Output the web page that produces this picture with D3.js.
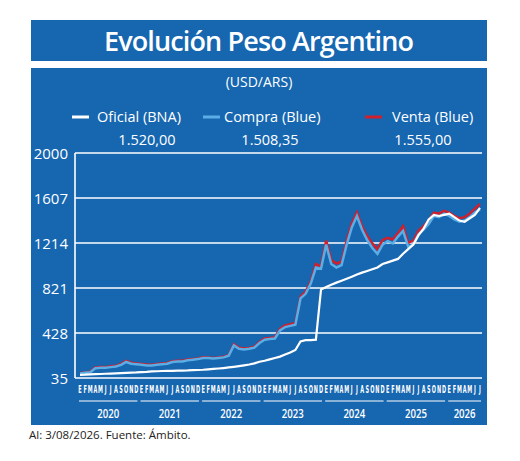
<!DOCTYPE html>
<html><head><meta charset="utf-8">
<script src="https://cdn.jsdelivr.net/npm/d3@7"></script>
<style>body{margin:0;background:#fff}svg{display:block}</style>
</head><body>
<script>
const months = ["E","F","M","A","M","J","J","A","S","O","N","D"];
const years = [2020,2021,2022,2023,2024,2025,2026];
const yTicks = [35,428,821,1214,1607,2000];
// monthly values Jan 2020 .. Jul 2026 (79 points)
const oficial = [63,64,66,68,70,72,74,76,78,80,82,84,
  87,89,92,94,96,97,98,99,100,101,103,105,
  107,110,114,118,122,127,132,138,145,153,163,177,
  186,198,210,222,240,258,280,355,365,365,370,808,
  830,850,868,885,902,920,938,955,970,985,1000,1030,
  1045,1060,1075,1120,1160,1200,1280,1340,1420,1460,1450,1460,
  1470,1440,1410,1400,1430,1460,1520];
const compra = [75,80,85,120,125,125,130,135,150,175,160,155,
  150,145,145,150,155,160,175,180,180,190,195,200,
  210,210,205,210,215,230,320,290,285,290,300,340,
  370,375,380,450,480,490,500,730,770,860,1000,990,
  1200,1030,1000,1020,1200,1350,1450,1330,1240,1170,1120,1200,
  1230,1210,1270,1320,1180,1200,1290,1330,1380,1450,1440,1470,
  1450,1420,1400,1410,1440,1480,1508];
const venta = [78,83,90,128,132,130,138,142,158,185,168,162,
  157,152,150,157,162,167,182,186,186,196,200,205,
  216,215,210,215,220,236,330,300,292,298,308,350,
  380,385,392,465,495,505,515,745,790,880,1030,1010,
  1235,1065,1035,1050,1235,1385,1480,1360,1275,1210,1160,1240,
  1260,1245,1300,1360,1215,1235,1320,1360,1410,1480,1470,1495,
  1480,1450,1430,1440,1470,1515,1555];

const W=520,H=461, blue="#1666b0";
const svg=d3.select("body").append("svg").attr("width",W).attr("height",H);
svg.append("rect").attr("x",31).attr("y",20).attr("width",456).attr("height",41).attr("fill",blue);
svg.append("rect").attr("x",31).attr("y",68).attr("width",456).attr("height",357).attr("fill",blue);
svg.append("text").attr("x",259).attr("y",51).attr("text-anchor","middle").attr("fill","#fff")
  .attr("font-family","Open Sans").attr("font-weight","600").attr("font-size",27).attr("textLength",310)
  .text("Evolución Peso Argentino");
svg.append("text").attr("x",259).attr("y",87).attr("text-anchor","middle").attr("fill","#fff")
  .attr("font-family","Open Sans").attr("font-size",14).text("(USD/ARS)");

const legend=[{n:"Oficial (BNA)",c:"#fff",v:"1.520,00",lx:72,tx:97,vx:147},
  {n:"Compra (Blue)",c:"#5aaee6",v:"1.508,35",lx:203,tx:224,vx:270},
  {n:"Venta (Blue)",c:"#d0202e",v:"1.555,00",lx:365,tx:392,vx:423}];
legend.forEach(l=>{
  svg.append("line").attr("x1",l.lx).attr("x2",l.lx+17).attr("y1",117).attr("y2",117).attr("stroke",l.c).attr("stroke-width",3);
  svg.append("text").attr("x",l.tx).attr("y",122).attr("fill","#fff").attr("font-family","Open Sans").attr("font-size",14.5).text(l.n);
  svg.append("text").attr("x",l.vx).attr("y",145).attr("text-anchor","middle").attr("fill","#fff").attr("font-family","Open Sans").attr("font-size",14.5).text(l.v);
});

const n=oficial.length;
const x=d3.scaleLinear().domain([0,n-1]).range([80,480]);
const y=d3.scaleLinear().domain([35,2000]).range([378,153]);
const left=75,right=482;
yTicks.forEach(t=>{
  svg.append("line").attr("x1",left).attr("x2",right).attr("y1",y(t)).attr("y2",y(t)).attr("stroke","#fff").attr("stroke-width",1.6);
  svg.append("text").attr("x",68).attr("y",y(t)+6).attr("text-anchor","end").attr("fill","#fff")
    .attr("font-family","Open Sans").attr("font-size",15).text(t);
});
svg.append("line").attr("x1",left).attr("x2",left).attr("y1",y(2000)).attr("y2",y(35)).attr("stroke","#fff").attr("stroke-width",1.6);

const line=d3.line().x((d,i)=>x(i)).y(d=>y(d));
svg.append("path").datum(venta).attr("d",line).attr("fill","none").attr("stroke","#d0202e").attr("stroke-width",2.5);
svg.append("path").datum(compra).attr("d",line).attr("fill","none").attr("stroke","#5aaee6").attr("stroke-width",2.5);
svg.append("path").datum(oficial).attr("d",line).attr("fill","none").attr("stroke","#fff").attr("stroke-width",2.2);

for(let i=0;i<n;i++){
  svg.append("text").attr("x",x(i)).attr("y",393).attr("text-anchor","middle").attr("fill","#fff")
    .attr("font-family","Liberation Sans Narrow, DejaVu Sans Condensed").attr("font-weight","bold").attr("font-size",11)
    .attr("transform",`translate(${x(i)},0) scale(0.5,1) translate(${-x(i)},0)`).text(months[i%12]);
}
years.forEach((yr,k)=>{
  const a=k*12, b=Math.min(n-1,k*12+11);
  svg.append("line").attr("x1",x(a)-1).attr("x2",x(b)+1).attr("y1",401).attr("y2",401).attr("stroke","#fff").attr("stroke-width",1);
  svg.append("text").attr("x",(x(a)+x(b))/2).attr("y",418).attr("text-anchor","middle").attr("fill","#fff")
    .attr("font-family","Open Sans").attr("font-weight","600").attr("font-size",12).attr("transform",`translate(${(x(a)+x(b))/2},0) scale(0.8,1) translate(${-(x(a)+x(b))/2},0)`).text(yr);
});
svg.append("text").attr("x",29).attr("y",439).attr("fill","#222").attr("font-family","Open Sans").attr("font-size",11.5).text("Al: 3/08/2026. Fuente: Ámbito.");
</script>
</body></html>
